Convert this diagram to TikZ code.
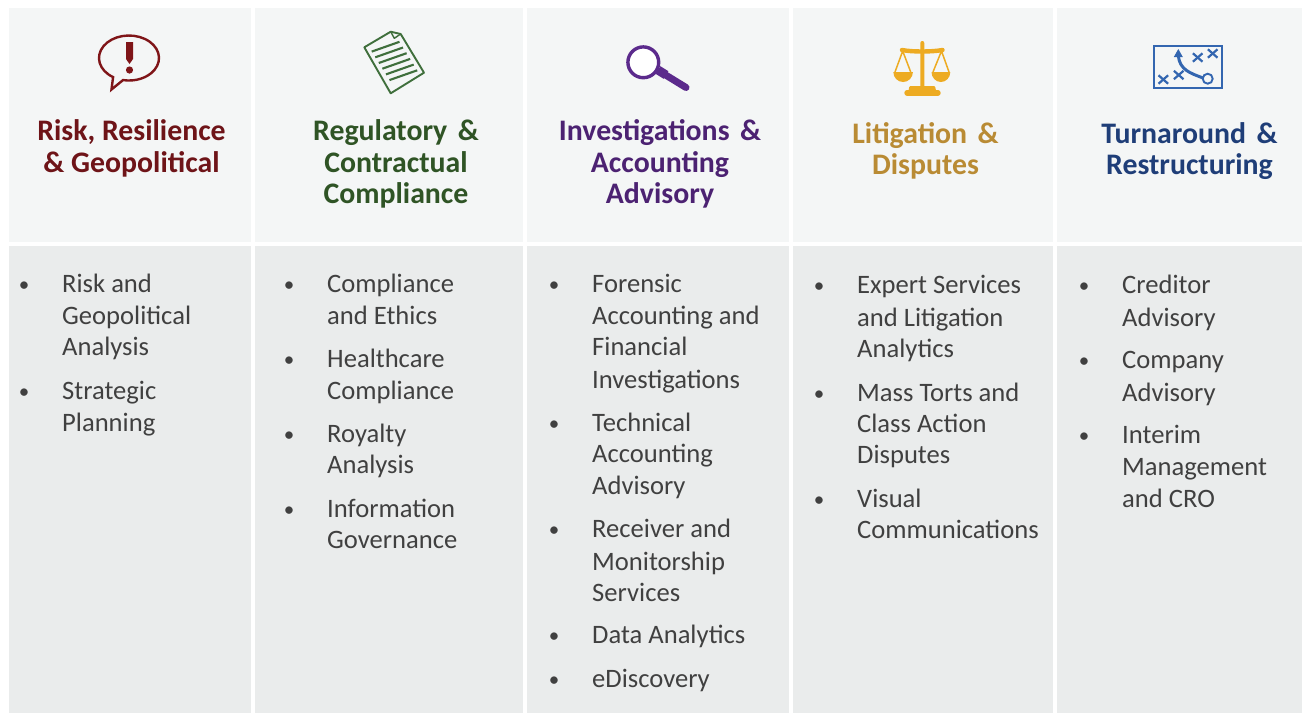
\documentclass[tikz,border=0pt]{standalone}
\usepackage{fontspec}
\setmainfont{Carlito}
\definecolor{panelTop}{HTML}{F4F6F6}
\definecolor{panelBot}{HTML}{EAECEC}
\definecolor{bodyText}{HTML}{404040}
\definecolor{hRed}{HTML}{6E1418}
\definecolor{hGreen}{HTML}{2F5425}
\definecolor{hPurple}{HTML}{4C2272}
\definecolor{hGold}{HTML}{B98B34}
\definecolor{hBlue}{HTML}{1F3E78}
\definecolor{iRed}{HTML}{7F1518}
\definecolor{iGreen}{HTML}{3F6F3C}
\definecolor{iPurple}{HTML}{5B2A8C}
\definecolor{iGold}{HTML}{EDAB22}
\definecolor{iBlue}{HTML}{3366B0}
\tikzset{
  px/.style={x=1pt,y=-1pt},
  paneltop/.style={fill=panelTop,draw=none},
  panelbot/.style={fill=panelBot,draw=none},
  head/.style={anchor=base,inner sep=0pt,font=\fontsize{29.8}{32}\selectfont\bfseries},
  item/.style={anchor=base west,inner sep=0pt,text=bodyText,font=\fontsize{26.6}{30}\selectfont},
  bul/.style={anchor=base,inner sep=0pt,text=bodyText,font=\fontsize{21}{30}\selectfont},
}
\newcommand{\textcol}[3]{% prefix, x, list y/text
  \foreach \yy/\tx [count=\i] in {#3}
    \node[item] (#1-\i) at (#2,\yy-1) {\tx};
}
\newcommand{\bulcol}[3]{%
  \foreach \yy [count=\i] in {#3}
    \node[bul] (#1-\i) at (#2-1,\yy-2) {•};
}
\newcommand{\headcol}[4]{%
  \foreach \yy/\tx [count=\i] in {#4}
    \node[head,text=#3] (#1-\i) at (#2,\yy) {\tx};
}
\newcommand{\gapamp}{\hspace{10.5pt}\&}
\begin{document}
\begin{tikzpicture}[px]
\useasboundingbox (0,0) rectangle (1302,713);
\fill[white] (0,0) rectangle (1302,713);
% panels
\foreach \a/\b in {9/251,255/523,527/789,793/1053,1057/1302}{
  \fill[paneltop] (\a,8) rectangle (\b,242);
  \fill[panelbot] (\a,246) rectangle (\b,713);
}
% headings
\headcol{ha}{131.5}{hRed}{140/{Risk, Resilience},172/{\& Geopolitical}}
\headcol{hb}{396}{hGreen}{140/{Regulatory\gapamp},172/{Contractual},203/{Compliance}}
\headcol{hc}{660}{hPurple}{140/{Investigations\gapamp},172/{Accounting},203/{Advisory}}
\headcol{hd}{925.5}{hGold}{143/{Litigation\gapamp},174/{Disputes}}
\headcol{he}{1189.5}{hBlue}{143/{Turnaround\gapamp},174/{Restructuring}}
% column 1
\bulcol{ba}{25}{293,400}
\textcol{ta}{62}{293/{Risk and},325/{Geopolitical},356/{Analysis},400/{Strategic},432/{Planning}}
% column 2
\bulcol{bb}{290}{293,368,443,518}
\textcol{tb}{327}{293/{Compliance},325/{and Ethics},368/{Healthcare},400/{Compliance},443/{Royalty},474/{Analysis},518/{Information},549/{Governance}}
% column 3
\bulcol{bc}{555}{293,432,538,644,688}
\textcol{tc}{592}{293/{Forensic},325/{Accounting and},356/{Financial},389/{Investigations},432/{Technical},463/{Accounting},495/{Advisory},538/{Receiver and},571/{Monitorship},602/{Services},644/{Data Analytics},688/{eDiscovery}}
% column 4
\bulcol{bd}{820}{294,402,508}
\textcol{td}{857}{294/{Expert Services},327/{and Litigation},358/{Analytics},402/{Mass Torts and},433/{Class Action},464/{Disputes},508/{Visual},539/{Communications}}
% column 5
\bulcol{be}{1085}{294,369,444}
\textcol{te}{1122}{294/{Creditor},327/{Advisory},369/{Company},402/{Advisory},444/{Interim},476/{Management},508/{and CRO}}
% risk icon
\draw[iRed,line width=2.4pt,line join=miter] (111.5,89.5) -- (113.1,77.1) arc[start angle=122,end angle=461.5,x radius=30,y radius=22.5] -- cycle;
\fill[iRed] (126,42) -- (133,42) -- (133,59) -- (129.5,64) -- (126,59) -- cycle;
\fill[iRed] (129.5,70) circle (3.6);
% document icon
\draw[iGreen,line width=1.9pt,line join=round] (364.3,47.3) -- (390.7,31.7) -- (400.7,34) -- (424,72.7) -- (390.7,93.3) -- cycle;
\draw[iGreen,line width=1.4pt,line join=round] (390.7,31.7) -- (394.3,38.3) -- (400.7,34);
\foreach \i in {0,...,5}
  \draw[iGreen,line width=2.1pt] ({371.7+\i*3.55},{51.6+\i*5.7}) -- ({399.5+\i*3.55},{41.8+\i*5.7});
% magnifier icon
\draw[iPurple,line width=7pt,line cap=round] (664,74) -- (686,87.5);
\draw[iPurple,line width=9pt] (658,70) -- (666,75);
\draw[iPurple,fill=white,line width=3.4pt] (643.3,62.3) circle (15.4);
% scales icon
\fill[iGold] (920.3,43) arc[start angle=180,end angle=360,radius=2] -- (924.3,88) -- (920.3,88) -- cycle;
\draw[iGold,line width=4.4pt,line cap=round] (902,50) .. controls (912,52) and (932,52) .. (942.5,50);
\draw[iGold,line width=1.5pt] (895,72) -- (902.7,51) -- (910.7,72);
\draw[iGold,line width=1.5pt] (933,72) -- (941.5,51) -- (949,72);
\fill[iGold] (893.3,72) arc[start angle=180,end angle=0,x radius=9.8,y radius=10] -- cycle;
\fill[iGold] (931.5,72) arc[start angle=180,end angle=0,x radius=9.4,y radius=10] -- cycle;
\fill[iGold,rounded corners=1pt] (909.5,86) -- (935,86) -- (936.5,93) -- (908,93) -- cycle;
\draw[iGold,line width=5.4pt,line cap=round] (907,92.8) -- (938,92.8);
% playbook icon
\draw[iBlue,line width=1.8pt] (1154,45.7) rectangle (1222.3,88.3);
\foreach \cx/\cy in {1163.3/79.5,1178.7/75,1197.7/57.5,1212.7/53.5}{
  \draw[iBlue,line width=2.2pt] (\cx-4.8,\cy-4.2) -- (\cx+4.8,\cy+4.2);
  \draw[iBlue,line width=2.2pt] (\cx-4.8,\cy+4.2) -- (\cx+4.8,\cy-4.2);
}
\draw[iBlue,line width=3pt] (1203,78) .. controls (1190,73) and (1180,70) .. (1178.3,56);
\fill[iBlue] (1178.3,49) -- (1182.8,57) -- (1173.8,57) -- cycle;
\draw[iBlue,fill=panelTop,line width=1.9pt] (1207.7,78.7) circle (5);
\end{tikzpicture}
\end{document}
